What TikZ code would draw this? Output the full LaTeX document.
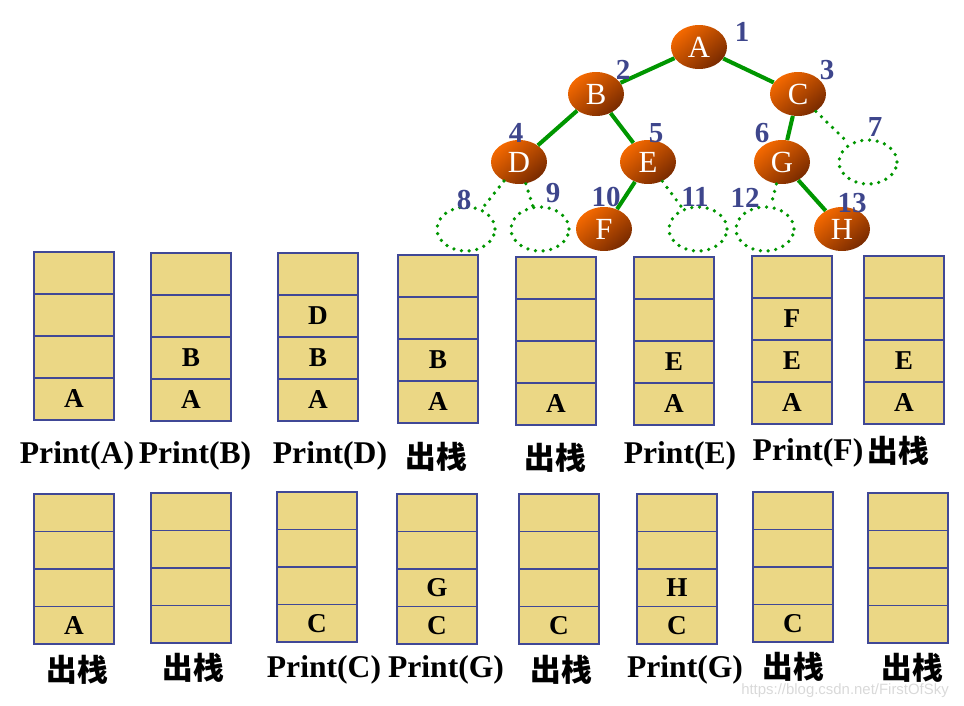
\documentclass[tikz,border=0pt]{standalone}
\usepackage{fontspec}
\setmainfont{Liberation Serif}
\newfontfamily\cjk{Noto Sans CJK SC}
\newfontfamily\wmfont{Liberation Sans}
\usetikzlibrary{shapes.geometric}
\definecolor{cellfill}{RGB}{235,215,133}
\definecolor{cellline}{RGB}{64,72,150}
\definecolor{treegreen}{RGB}{0,150,0}
\definecolor{numblue}{RGB}{62,70,140}
\definecolor{ballhi}{RGB}{245,105,0}
\definecolor{balllo}{RGB}{120,42,0}

% one stack: name, centre x, bottom y, cell height, cells from bottom to top
\newcommand{\stk}[8]{%
  \node[cell,minimum height=#4*0.02cm] (#1-1) at (#2,#3-0.5*#4) {#5};
  \node[cell,minimum height=#4*0.02cm] (#1-2) at (#2,#3-1.5*#4) {#6};
  \node[cell,minimum height=#4*0.02cm] (#1-3) at (#2,#3-2.5*#4) {#7};
  \node[cell,minimum height=#4*0.02cm] (#1-4) at (#2,#3-3.5*#4) {#8};
}

\begin{document}
\begin{tikzpicture}[x=0.02cm,y=-0.02cm,
  cell/.style={draw=cellline,line width=0.6pt,fill=cellfill,minimum width=1.6cm,
    inner sep=0pt,font=\bfseries\fontsize{15.5}{18}\selectfont},
  ball/.style={ellipse,minimum width=1.12cm,minimum height=0.88cm,inner sep=0pt,
    top color=ballhi,bottom color=balllo,shading angle=40,text=white,
    font=\fontsize{17.5}{20}\selectfont},
  hole/.style={ellipse,minimum width=1.16cm,minimum height=0.88cm,inner sep=0pt,
    draw=treegreen,line width=2.1pt,dash pattern=on 0pt off 4.4pt,line cap=round},
  branch/.style={treegreen,line width=2.3pt},
  nobranch/.style={treegreen,line width=2.1pt,dash pattern=on 0pt off 4.4pt,line cap=round},
  num/.style={numblue,inner sep=0pt,font=\bfseries\fontsize{16.5}{19}\selectfont},
  op/.style={anchor=base,inner sep=0pt,font=\bfseries\fontsize{18}{21}\selectfont},
  cn/.style={anchor=base,inner sep=0pt,font=\cjk\bfseries\fontsize{17.5}{20}\selectfont}]
  \useasboundingbox (0,0) rectangle (964,706);

  % the tree
  \node[ball] (A) at (699,47) {A};
  \node[ball] (B) at (596,94) {B};
  \node[ball] (C) at (798,94) {C};
  \node[ball] (D) at (519,162) {D};
  \node[ball] (E) at (648,162) {E};
  \node[ball] (G) at (782,162) {G};
  \node[ball] (F) at (604,229) {F};
  \node[ball] (H) at (842,229) {H};
  % empty children
  \node[hole] (e7)  at (868,162) {};
  \node[hole] (e8)  at (466,229) {};
  \node[hole] (e9)  at (540,229) {};
  \node[hole] (e11) at (698,229) {};
  \node[hole] (e12) at (765,229) {};
  \draw[branch] (A) -- (B);
  \draw[branch] (A) -- (C);
  \draw[branch] (B) -- (D);
  \draw[branch] (B) -- (E);
  \draw[branch] (C) -- (G);
  \draw[branch] (E) -- (F);
  \draw[branch] (G) -- (H);
  \draw[nobranch] (C) -- (e7);
  \draw[nobranch] (D) -- (e8);
  \draw[nobranch] (D) -- (e9);
  \draw[nobranch] (E) -- (e11);
  \draw[nobranch] (G) -- (e12);
  % numbering
  \node[num] (num1)  at (742,32)  {1};
  \node[num] (num2)  at (623,70)  {2};
  \node[num] (num3)  at (827,70)  {3};
  \node[num] (num4)  at (516,133) {4};
  \node[num] (num5)  at (656,133) {5};
  \node[num] (num6)  at (762,133) {6};
  \node[num] (num7)  at (875,127) {7};
  \node[num] (num8)  at (464,200) {8};
  \node[num] (num9)  at (553,193) {9};
  \node[num] (num10) at (606,197) {10};
  \node[num] (num11) at (695,197) {11};
  \node[num] (num12) at (745,198) {12};
  \node[num] (num13) at (852,203) {13};

  % first row of stacks
  \stk{s1}{74}{420}{42}{A}{}{}{}
  \stk{s2}{191}{421}{42}{A}{B}{}{}
  \stk{s3}{318}{421}{42}{A}{B}{D}{}
  \stk{s4}{438}{423}{42}{A}{B}{}{}
  \stk{s5}{556}{425}{42}{A}{}{}{}
  \stk{s6}{674}{425}{42}{A}{E}{}{}
  \stk{s7}{792}{424}{42}{A}{E}{F}{}
  \stk{s8}{904}{424}{42}{A}{E}{}{}
  \node[op] (o1) at (77,463)  {Print(A)};
  \node[op] (o2) at (195,463) {Print(B)};
  \node[op] (o3) at (330,463) {Print(D)};
  \node[cn] (o4) at (436,468) {出栈};
  \node[cn] (o5) at (555,469) {出栈};
  \node[op] (o6) at (680,463) {Print(E)};
  \node[op] (o7) at (808,460) {Print(F)};
  \node[cn] (o8) at (898,462) {出栈};

  % second row of stacks
  \stk{t1}{74}{644}{37.5}{A}{}{}{}
  \stk{t2}{191}{643}{37.5}{}{}{}{}
  \stk{t3}{317}{642}{37.5}{C}{}{}{}
  \stk{t4}{437}{644}{37.5}{C}{G}{}{}
  \stk{t5}{559}{644}{37.5}{C}{}{}{}
  \stk{t6}{677}{644}{37.5}{C}{H}{}{}
  \stk{t7}{793}{642}{37.5}{C}{}{}{}
  \stk{t8}{908}{643}{37.5}{}{}{}{}
  \node[cn] (p1) at (77,681)  {出栈};
  \node[cn] (p2) at (193,679) {出栈};
  \node[op] (p3) at (324,677) {Print(C)};
  \node[op] (p4) at (446,677) {Print(G)};
  \node[cn] (p5) at (561,681) {出栈};
  \node[op] (p6) at (685,677) {Print(G)};
  \node[cn] (p7) at (793,678) {出栈};
  \node[cn] (p8) at (912,679) {出栈};

  \node[gray!30,inner sep=0pt,font=\wmfont\fontsize{8.5}{10}\selectfont] (wm)
    at (845,691) {https://blog.csdn.net/FirstOfSky};
\end{tikzpicture}
\end{document}
